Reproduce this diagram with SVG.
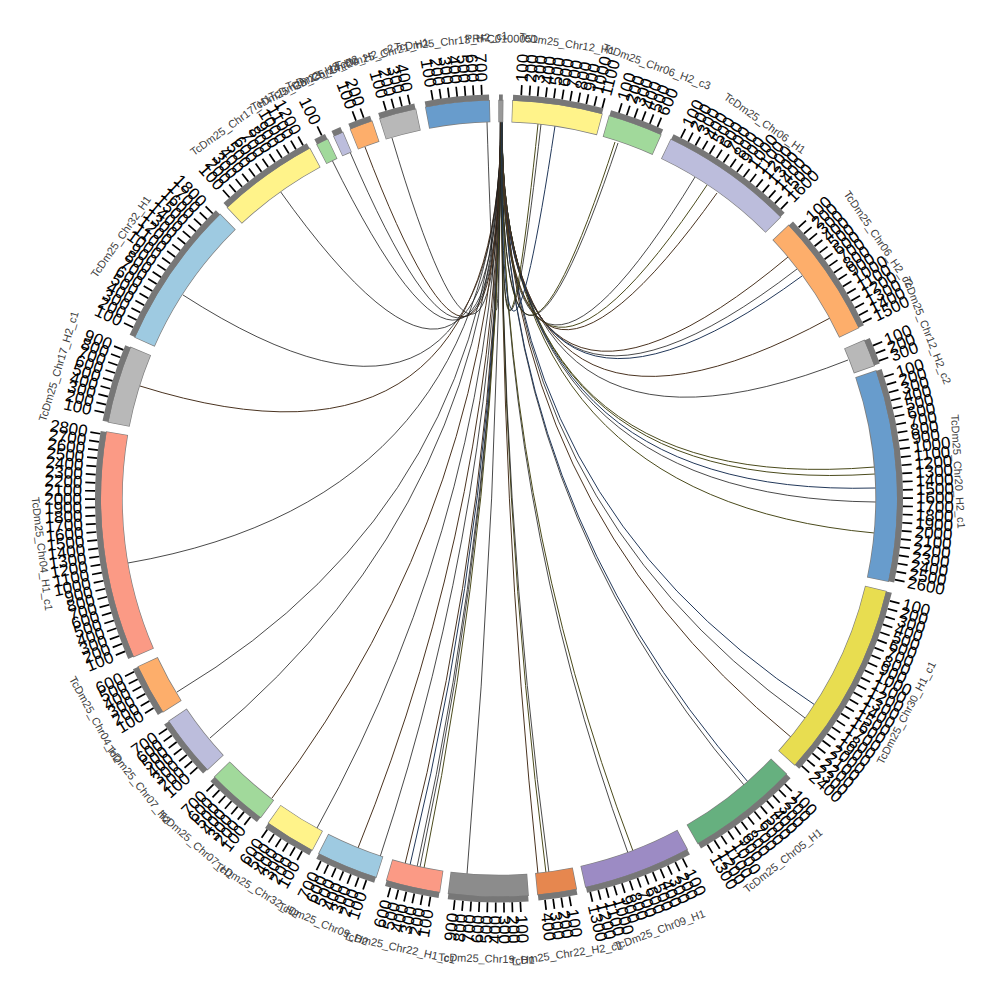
<svg xmlns="http://www.w3.org/2000/svg" xmlns:xlink="http://www.w3.org/1999/xlink" width="1000" height="1000" viewBox="0 0 1000 1000">
<style>
.ol{fill:none;stroke:#7f7f7f;stroke-width:22.4}
.bd{fill:none;stroke-width:21}
.gb{fill:none;stroke:#777;stroke-width:6}
.tl{font-family:"Liberation Sans",Arial,sans-serif;font-size:17px;fill:#000;dominant-baseline:central}
.tr{text-anchor:end}
.nm{font-family:"Liberation Sans",Arial,sans-serif;font-size:11px;fill:#404040;text-anchor:middle;dominant-baseline:central}
.lk{fill:none;stroke:#1c1c1c;stroke-width:0.8}
.lb{fill:none;stroke:#4a3320;stroke-width:1}
.lo{fill:none;stroke:#4b4b1c;stroke-width:1}
.ln{fill:none;stroke:#22385a;stroke-width:1}
</style>
<defs>
<line id="tk" x1="404" y1="0" x2="414" y2="0" stroke="#000" stroke-width="1.7"/>
</defs>
<rect width="1000" height="1000" fill="#fff"/>
<g id="links">
<path class="lk" d="M500 121.5 Q499 498.5 487 122"/>
<path class="lk" d="M500.5 121.5 Q499 498.5 392 138"/>
<path class="lb" d="M500.5 121.5 Q499 498.5 365 147"/>
<path class="lk" d="M501 121.5 Q499 498.5 350 152"/>
<path class="lk" d="M501 121.5 Q499 498.5 332 160"/>
<path class="lk" d="M501 121.5 Q499 498.5 280 191"/>
<path class="lk" d="M501 121.5 Q499 498.5 183 295"/>
<path class="lb" d="M501 121.5 Q499 498.5 140 386"/>
<path class="lk" d="M501 121.5 Q499 498.5 128 563"/>
<path class="lk" d="M501 121.5 Q499 498.5 177 692"/>
<path class="lk" d="M501 121.5 Q499 498.5 210 738"/>
<path class="lb" d="M501 121.5 Q499 498.5 272 798"/>
<path class="lk" d="M501 121.5 Q499 498.5 317 828"/>
<path class="lb" d="M501 121.5 Q499 498.5 358 848"/>
<path class="lk" d="M501 121.5 Q499 498.5 380 857"/>
<path class="lb" d="M501 121.5 Q499 498.5 405 864"/>
<path class="ln" d="M501.5 121.5 Q499 498.5 410 865"/>
<path class="lk" d="M501.5 121.5 Q499 498.5 417 867" stroke-width="1.6"/>
<path class="lk" d="M501.5 121.5 Q499 498.5 420 867" stroke-width="1.6"/>
<path class="lo" d="M501.5 121.5 Q499 498.5 424 868"/>
<path class="lk" d="M501.5 121.5 Q499 498.5 467 874"/>
<path class="lb" d="M501.5 121.5 Q499 498.5 538 874"/>
<path class="lo" d="M501.5 121.5 Q499 498.5 546 873" stroke-width="1.6"/>
<path class="lk" d="M501.5 121.5 Q499 498.5 549 873" stroke-width="1.4"/>
<path class="lk" d="M501.5 121.5 Q499 498.5 628 853"/>
<path class="lo" d="M501.5 121.5 Q499 498.5 633 851"/>
<path class="lk" d="M502 121.5 Q499 498.5 744 785"/>
<path class="ln" d="M502 121.5 Q499 498.5 748 782"/>
<path class="ln" d="M502 121.5 Q499 498.5 815 705"/>
<path class="lk" d="M502 121.5 Q499 498.5 805 718"/>
<path class="lb" d="M502 121.5 Q499 498.5 792 738"/>
<path class="lo" d="M502 121.5 Q499 498.5 874.7 467"/>
<path class="lo" d="M502 121.5 Q499 498.5 875.2 474"/>
<path class="ln" d="M502 121.5 Q499 498.5 875.9 488"/>
<path class="lk" d="M502 121.5 Q499 498.5 876 502"/>
<path class="lo" d="M502 121.5 Q499 498.5 874.4 533"/>
<path class="lk" d="M502 121.5 Q499 498.5 848 360"/>
<path class="lb" d="M502 121.5 Q499 498.5 788 257"/>
<path class="lk" d="M502 121.5 Q499 498.5 797 269"/>
<path class="ln" d="M502 121.5 Q499 498.5 802 276"/>
<path class="lb" d="M502 121.5 Q499 498.5 830 318"/>
<path class="lk" d="M502 121.5 Q499 498.5 695 177"/>
<path class="lo" d="M502 121.5 Q499 498.5 707 185"/>
<path class="lb" d="M502 121.5 Q499 498.5 717 193"/>
<path class="lo" d="M502 121.5 Q499 498.5 615 142"/>
<path class="lk" d="M502 121.5 Q499 498.5 618 143"/>
<path class="lo" d="M502 121.5 Q499 498.5 538 124"/>
<path class="lk" d="M502 121.5 Q499 498.5 541 124"/>
<path class="ln" d="M502 121.5 Q499 498.5 555 126"/>
</g>
<g transform="translate(499 498.5)">
<g id="s01">
<circle class="ol" r="387.5" stroke-dasharray="5.07 3000" transform="rotate(269.9)"/>
<circle class="bd" r="387.5" stroke="#999" stroke-dasharray="3.72 3000" transform="rotate(270)"/>
<circle class="gb" r="401" stroke-dasharray="3.85 3000" transform="rotate(270)"/>
<text class="nm" y="-460" transform="rotate(0.28)">PRFC0100051</text>
</g>
<g id="s02">
<circle class="ol" r="387.5" stroke-dasharray="89.27 3000" transform="rotate(-88.1)"/>
<circle class="bd" r="387.5" stroke="#fff38a" stroke-dasharray="87.92 3000" transform="rotate(-88)"/>
<circle class="gb" r="401" stroke-dasharray="90.98 3000" transform="rotate(-88)"/>
<use href="#tk" transform="rotate(-86.84)"/><use href="#tk" transform="rotate(-85.67)"/><use href="#tk" transform="rotate(-84.51)"/><use href="#tk" transform="rotate(-83.34)"/><use href="#tk" transform="rotate(-82.18)"/><use href="#tk" transform="rotate(-81.01)"/><use href="#tk" transform="rotate(-79.85)"/><use href="#tk" transform="rotate(-78.68)"/><use href="#tk" transform="rotate(-77.52)"/><use href="#tk" transform="rotate(-76.35)"/><use href="#tk" transform="rotate(-75.19)"/>
<text class="tl" x="417" transform="rotate(-86.84)">100</text><text class="tl" x="417" transform="rotate(-85.67)">200</text><text class="tl" x="417" transform="rotate(-84.51)">300</text><text class="tl" x="417" transform="rotate(-83.34)">400</text><text class="tl" x="417" transform="rotate(-82.18)">500</text><text class="tl" x="417" transform="rotate(-81.01)">600</text><text class="tl" x="417" transform="rotate(-79.85)">700</text><text class="tl" x="417" transform="rotate(-78.68)">800</text><text class="tl" x="417" transform="rotate(-77.52)">900</text><text class="tl" x="417" transform="rotate(-76.35)">1000</text><text class="tl" x="417" transform="rotate(-75.19)">1100</text>
<text class="nm" y="-460" transform="rotate(8.5)">TcDm25_Chr12_H1</text>
</g>
<g id="s03">
<circle class="ol" r="387.5" stroke-dasharray="54.78 3000" transform="rotate(-74)"/>
<circle class="bd" r="387.5" stroke="#a1d99b" stroke-dasharray="53.43 3000" transform="rotate(-73.9)"/>
<circle class="gb" r="401" stroke-dasharray="55.29 3000" transform="rotate(-73.9)"/>
<use href="#tk" transform="rotate(-72.74)"/><use href="#tk" transform="rotate(-71.57)"/><use href="#tk" transform="rotate(-70.41)"/><use href="#tk" transform="rotate(-69.24)"/><use href="#tk" transform="rotate(-68.08)"/><use href="#tk" transform="rotate(-66.91)"/>
<text class="tl" x="417" transform="rotate(-72.74)">100</text><text class="tl" x="417" transform="rotate(-71.57)">200</text><text class="tl" x="417" transform="rotate(-70.41)">300</text><text class="tl" x="417" transform="rotate(-69.24)">400</text><text class="tl" x="417" transform="rotate(-68.08)">500</text><text class="tl" x="417" transform="rotate(-66.91)">600</text>
<text class="nm" y="-460" transform="rotate(20.05)">TcDm25_Chr06_H2_c3</text>
</g>
<g id="s04">
<circle class="ol" r="387.5" stroke-dasharray="132.56 3000" transform="rotate(-64.5)"/>
<circle class="bd" r="387.5" stroke="#bcbddc" stroke-dasharray="131.2 3000" transform="rotate(-64.4)"/>
<circle class="gb" r="401" stroke-dasharray="135.78 3000" transform="rotate(-64.4)"/>
<use href="#tk" transform="rotate(-63.24)"/><use href="#tk" transform="rotate(-62.07)"/><use href="#tk" transform="rotate(-60.91)"/><use href="#tk" transform="rotate(-59.74)"/><use href="#tk" transform="rotate(-58.58)"/><use href="#tk" transform="rotate(-57.41)"/><use href="#tk" transform="rotate(-56.25)"/><use href="#tk" transform="rotate(-55.08)"/><use href="#tk" transform="rotate(-53.92)"/><use href="#tk" transform="rotate(-52.75)"/><use href="#tk" transform="rotate(-51.59)"/><use href="#tk" transform="rotate(-50.42)"/><use href="#tk" transform="rotate(-49.26)"/><use href="#tk" transform="rotate(-48.09)"/><use href="#tk" transform="rotate(-46.93)"/><use href="#tk" transform="rotate(-45.76)"/>
<text class="tl" x="417" transform="rotate(-63.24)">100</text><text class="tl" x="417" transform="rotate(-62.07)">200</text><text class="tl" x="417" transform="rotate(-60.91)">300</text><text class="tl" x="417" transform="rotate(-59.74)">400</text><text class="tl" x="417" transform="rotate(-58.58)">500</text><text class="tl" x="417" transform="rotate(-57.41)">600</text><text class="tl" x="417" transform="rotate(-56.25)">700</text><text class="tl" x="417" transform="rotate(-55.08)">800</text><text class="tl" x="417" transform="rotate(-53.92)">900</text><text class="tl" x="417" transform="rotate(-52.75)">1000</text><text class="tl" x="417" transform="rotate(-51.59)">1100</text><text class="tl" x="417" transform="rotate(-50.42)">1200</text><text class="tl" x="417" transform="rotate(-49.26)">1300</text><text class="tl" x="417" transform="rotate(-48.09)">1400</text><text class="tl" x="417" transform="rotate(-46.93)">1500</text><text class="tl" x="417" transform="rotate(-45.76)">1600</text>
<text class="nm" y="-460" transform="rotate(35.3)">TcDm25_Chr06_H1</text>
</g>
<g id="s05">
<circle class="ol" r="387.5" stroke-dasharray="122.41 3000" transform="rotate(-43.4)"/>
<circle class="bd" r="387.5" stroke="#fdae6b" stroke-dasharray="121.06 3000" transform="rotate(-43.3)"/>
<circle class="gb" r="401" stroke-dasharray="125.28 3000" transform="rotate(-43.3)"/>
<use href="#tk" transform="rotate(-42.14)"/><use href="#tk" transform="rotate(-40.97)"/><use href="#tk" transform="rotate(-39.81)"/><use href="#tk" transform="rotate(-38.64)"/><use href="#tk" transform="rotate(-37.48)"/><use href="#tk" transform="rotate(-36.31)"/><use href="#tk" transform="rotate(-35.15)"/><use href="#tk" transform="rotate(-33.98)"/><use href="#tk" transform="rotate(-32.82)"/><use href="#tk" transform="rotate(-31.65)"/><use href="#tk" transform="rotate(-30.49)"/><use href="#tk" transform="rotate(-29.32)"/><use href="#tk" transform="rotate(-28.16)"/><use href="#tk" transform="rotate(-26.99)"/><use href="#tk" transform="rotate(-25.83)"/>
<text class="tl" x="417" transform="rotate(-42.14)">100</text><text class="tl" x="417" transform="rotate(-40.97)">200</text><text class="tl" x="417" transform="rotate(-39.81)">300</text><text class="tl" x="417" transform="rotate(-38.64)">400</text><text class="tl" x="417" transform="rotate(-37.48)">500</text><text class="tl" x="417" transform="rotate(-36.31)">600</text><text class="tl" x="417" transform="rotate(-35.15)">700</text><text class="tl" x="417" transform="rotate(-33.98)">800</text><text class="tl" x="417" transform="rotate(-32.82)">900</text><text class="tl" x="417" transform="rotate(-31.65)">1000</text><text class="tl" x="417" transform="rotate(-30.49)">1100</text><text class="tl" x="417" transform="rotate(-29.32)">1200</text><text class="tl" x="417" transform="rotate(-28.16)">1300</text><text class="tl" x="417" transform="rotate(-26.99)">1400</text><text class="tl" x="417" transform="rotate(-25.83)">1500</text>
<text class="nm" y="-460" transform="rotate(55.65)">TcDm25_Chr06_H2_c2</text>
</g>
<g id="s06">
<circle class="ol" r="387.5" stroke-dasharray="27.73 3000" transform="rotate(-23.5)"/>
<circle class="bd" r="387.5" stroke="#b8b8b8" stroke-dasharray="26.38 3000" transform="rotate(-23.4)"/>
<circle class="gb" r="401" stroke-dasharray="27.3 3000" transform="rotate(-23.4)"/>
<use href="#tk" transform="rotate(-22.24)"/><use href="#tk" transform="rotate(-21.07)"/><use href="#tk" transform="rotate(-19.91)"/>
<text class="tl" x="417" transform="rotate(-22.24)">100</text><text class="tl" x="417" transform="rotate(-21.07)">200</text><text class="tl" x="417" transform="rotate(-19.91)">300</text>
<text class="nm" y="-460" transform="rotate(68.55)">TcDm25_Chr12_H2_c2</text>
</g>
<g id="s07">
<circle class="ol" r="387.5" stroke-dasharray="208.98 3000" transform="rotate(-18.8)"/>
<circle class="bd" r="387.5" stroke="#689ccc" stroke-dasharray="207.63 3000" transform="rotate(-18.7)"/>
<circle class="gb" r="401" stroke-dasharray="214.86 3000" transform="rotate(-18.7)"/>
<use href="#tk" transform="rotate(-17.54)"/><use href="#tk" transform="rotate(-16.37)"/><use href="#tk" transform="rotate(-15.21)"/><use href="#tk" transform="rotate(-14.04)"/><use href="#tk" transform="rotate(-12.88)"/><use href="#tk" transform="rotate(-11.71)"/><use href="#tk" transform="rotate(-10.55)"/><use href="#tk" transform="rotate(-9.38)"/><use href="#tk" transform="rotate(-8.22)"/><use href="#tk" transform="rotate(-7.05)"/><use href="#tk" transform="rotate(-5.89)"/><use href="#tk" transform="rotate(-4.72)"/><use href="#tk" transform="rotate(-3.56)"/><use href="#tk" transform="rotate(-2.39)"/><use href="#tk" transform="rotate(-1.23)"/><use href="#tk" transform="rotate(-0.06)"/><use href="#tk" transform="rotate(1.11)"/><use href="#tk" transform="rotate(2.27)"/><use href="#tk" transform="rotate(3.44)"/><use href="#tk" transform="rotate(4.6)"/><use href="#tk" transform="rotate(5.77)"/><use href="#tk" transform="rotate(6.93)"/><use href="#tk" transform="rotate(8.1)"/><use href="#tk" transform="rotate(9.26)"/><use href="#tk" transform="rotate(10.43)"/><use href="#tk" transform="rotate(11.59)"/>
<text class="tl" x="417" transform="rotate(-17.54)">100</text><text class="tl" x="417" transform="rotate(-16.37)">200</text><text class="tl" x="417" transform="rotate(-15.21)">300</text><text class="tl" x="417" transform="rotate(-14.04)">400</text><text class="tl" x="417" transform="rotate(-12.88)">500</text><text class="tl" x="417" transform="rotate(-11.71)">600</text><text class="tl" x="417" transform="rotate(-10.55)">700</text><text class="tl" x="417" transform="rotate(-9.38)">800</text><text class="tl" x="417" transform="rotate(-8.22)">900</text><text class="tl" x="417" transform="rotate(-7.05)">1000</text><text class="tl" x="417" transform="rotate(-5.89)">1100</text><text class="tl" x="417" transform="rotate(-4.72)">1200</text><text class="tl" x="417" transform="rotate(-3.56)">1300</text><text class="tl" x="417" transform="rotate(-2.39)">1400</text><text class="tl" x="417" transform="rotate(-1.23)">1500</text><text class="tl" x="417" transform="rotate(-0.06)">1600</text><text class="tl" x="417" transform="rotate(1.11)">1700</text><text class="tl" x="417" transform="rotate(2.27)">1800</text><text class="tl" x="417" transform="rotate(3.44)">1900</text><text class="tl" x="417" transform="rotate(4.6)">2000</text><text class="tl" x="417" transform="rotate(5.77)">2100</text><text class="tl" x="417" transform="rotate(6.93)">2200</text><text class="tl" x="417" transform="rotate(8.1)">2300</text><text class="tl" x="417" transform="rotate(9.26)">2400</text><text class="tl" x="417" transform="rotate(10.43)">2500</text><text class="tl" x="417" transform="rotate(11.59)">2600</text>
<text class="nm" y="-460" transform="rotate(86.65)">TcDm25_Chr20_H2_c1</text>
</g>
<g id="s08">
<circle class="ol" r="387.5" stroke-dasharray="194.1 3000" transform="rotate(13.4)"/>
<circle class="bd" r="387.5" stroke="#e8dd50" stroke-dasharray="192.75 3000" transform="rotate(13.5)"/>
<circle class="gb" r="401" stroke-dasharray="199.47 3000" transform="rotate(13.5)"/>
<use href="#tk" transform="rotate(14.67)"/><use href="#tk" transform="rotate(15.83)"/><use href="#tk" transform="rotate(17)"/><use href="#tk" transform="rotate(18.16)"/><use href="#tk" transform="rotate(19.33)"/><use href="#tk" transform="rotate(20.49)"/><use href="#tk" transform="rotate(21.66)"/><use href="#tk" transform="rotate(22.82)"/><use href="#tk" transform="rotate(23.99)"/><use href="#tk" transform="rotate(25.15)"/><use href="#tk" transform="rotate(26.32)"/><use href="#tk" transform="rotate(27.48)"/><use href="#tk" transform="rotate(28.65)"/><use href="#tk" transform="rotate(29.81)"/><use href="#tk" transform="rotate(30.98)"/><use href="#tk" transform="rotate(32.14)"/><use href="#tk" transform="rotate(33.31)"/><use href="#tk" transform="rotate(34.47)"/><use href="#tk" transform="rotate(35.64)"/><use href="#tk" transform="rotate(36.8)"/><use href="#tk" transform="rotate(37.97)"/><use href="#tk" transform="rotate(39.13)"/><use href="#tk" transform="rotate(40.3)"/><use href="#tk" transform="rotate(41.46)"/>
<text class="tl" x="417" transform="rotate(14.67)">100</text><text class="tl" x="417" transform="rotate(15.83)">200</text><text class="tl" x="417" transform="rotate(17)">300</text><text class="tl" x="417" transform="rotate(18.16)">400</text><text class="tl" x="417" transform="rotate(19.33)">500</text><text class="tl" x="417" transform="rotate(20.49)">600</text><text class="tl" x="417" transform="rotate(21.66)">700</text><text class="tl" x="417" transform="rotate(22.82)">800</text><text class="tl" x="417" transform="rotate(23.99)">900</text><text class="tl" x="417" transform="rotate(25.15)">1000</text><text class="tl" x="417" transform="rotate(26.32)">1100</text><text class="tl" x="417" transform="rotate(27.48)">1200</text><text class="tl" x="417" transform="rotate(28.65)">1300</text><text class="tl" x="417" transform="rotate(29.81)">1400</text><text class="tl" x="417" transform="rotate(30.98)">1500</text><text class="tl" x="417" transform="rotate(32.14)">1600</text><text class="tl" x="417" transform="rotate(33.31)">1700</text><text class="tl" x="417" transform="rotate(34.47)">1800</text><text class="tl" x="417" transform="rotate(35.64)">1900</text><text class="tl" x="417" transform="rotate(36.8)">2000</text><text class="tl" x="417" transform="rotate(37.97)">2100</text><text class="tl" x="417" transform="rotate(39.13)">2200</text><text class="tl" x="417" transform="rotate(40.3)">2300</text><text class="tl" x="417" transform="rotate(41.46)">2400</text>
<text class="nm" y="460" transform="rotate(-62.25)">TcDm25_Chr30_H1_c1</text>
</g>
<g id="s09">
<circle class="ol" r="387.5" stroke-dasharray="110.91 3000" transform="rotate(43.7)"/>
<circle class="bd" r="387.5" stroke="#66b07f" stroke-dasharray="109.56 3000" transform="rotate(43.8)"/>
<circle class="gb" r="401" stroke-dasharray="113.38 3000" transform="rotate(43.8)"/>
<use href="#tk" transform="rotate(44.97)"/><use href="#tk" transform="rotate(46.13)"/><use href="#tk" transform="rotate(47.3)"/><use href="#tk" transform="rotate(48.46)"/><use href="#tk" transform="rotate(49.63)"/><use href="#tk" transform="rotate(50.79)"/><use href="#tk" transform="rotate(51.96)"/><use href="#tk" transform="rotate(53.12)"/><use href="#tk" transform="rotate(54.29)"/><use href="#tk" transform="rotate(55.45)"/><use href="#tk" transform="rotate(56.62)"/><use href="#tk" transform="rotate(57.78)"/><use href="#tk" transform="rotate(58.95)"/>
<text class="tl" x="417" transform="rotate(44.97)">100</text><text class="tl" x="417" transform="rotate(46.13)">200</text><text class="tl" x="417" transform="rotate(47.3)">300</text><text class="tl" x="417" transform="rotate(48.46)">400</text><text class="tl" x="417" transform="rotate(49.63)">500</text><text class="tl" x="417" transform="rotate(50.79)">600</text><text class="tl" x="417" transform="rotate(51.96)">700</text><text class="tl" x="417" transform="rotate(53.12)">800</text><text class="tl" x="417" transform="rotate(54.29)">900</text><text class="tl" x="417" transform="rotate(55.45)">1000</text><text class="tl" x="417" transform="rotate(56.62)">1100</text><text class="tl" x="417" transform="rotate(57.78)">1200</text><text class="tl" x="417" transform="rotate(58.95)">1300</text>
<text class="nm" y="460" transform="rotate(-38.1)">TcDm25_Chr05_H1</text>
</g>
<g id="s10">
<circle class="ol" r="387.5" stroke-dasharray="106.86 3000" transform="rotate(61.7)"/>
<circle class="bd" r="387.5" stroke="#9c8bc4" stroke-dasharray="105.5 3000" transform="rotate(61.8)"/>
<circle class="gb" r="401" stroke-dasharray="109.18 3000" transform="rotate(61.8)"/>
<use href="#tk" transform="rotate(62.97)"/><use href="#tk" transform="rotate(64.13)"/><use href="#tk" transform="rotate(65.3)"/><use href="#tk" transform="rotate(66.46)"/><use href="#tk" transform="rotate(67.63)"/><use href="#tk" transform="rotate(68.79)"/><use href="#tk" transform="rotate(69.96)"/><use href="#tk" transform="rotate(71.12)"/><use href="#tk" transform="rotate(72.29)"/><use href="#tk" transform="rotate(73.45)"/><use href="#tk" transform="rotate(74.62)"/><use href="#tk" transform="rotate(75.78)"/><use href="#tk" transform="rotate(76.95)"/>
<text class="tl" x="417" transform="rotate(62.97)">100</text><text class="tl" x="417" transform="rotate(64.13)">200</text><text class="tl" x="417" transform="rotate(65.3)">300</text><text class="tl" x="417" transform="rotate(66.46)">400</text><text class="tl" x="417" transform="rotate(67.63)">500</text><text class="tl" x="417" transform="rotate(68.79)">600</text><text class="tl" x="417" transform="rotate(69.96)">700</text><text class="tl" x="417" transform="rotate(71.12)">800</text><text class="tl" x="417" transform="rotate(72.29)">900</text><text class="tl" x="417" transform="rotate(73.45)">1000</text><text class="tl" x="417" transform="rotate(74.62)">1100</text><text class="tl" x="417" transform="rotate(75.78)">1200</text><text class="tl" x="417" transform="rotate(76.95)">1300</text>
<text class="nm" y="460" transform="rotate(-20.4)">TcDm25_Chr09_H1</text>
</g>
<g id="s11">
<circle class="ol" r="387.5" stroke-dasharray="39.23 3000" transform="rotate(78.7)"/>
<circle class="bd" r="387.5" stroke="#e6874f" stroke-dasharray="37.87 3000" transform="rotate(78.8)"/>
<circle class="gb" r="401" stroke-dasharray="39.19 3000" transform="rotate(78.8)"/>
<use href="#tk" transform="rotate(79.97)"/><use href="#tk" transform="rotate(81.13)"/><use href="#tk" transform="rotate(82.3)"/><use href="#tk" transform="rotate(83.46)"/>
<text class="tl" x="417" transform="rotate(79.97)">100</text><text class="tl" x="417" transform="rotate(81.13)">200</text><text class="tl" x="417" transform="rotate(82.3)">300</text><text class="tl" x="417" transform="rotate(83.46)">400</text>
<text class="nm" y="460" transform="rotate(-8.4)">TcDm25_Chr22_H2_c1</text>
</g>
<g id="s12">
<circle class="ol" r="387.5" stroke-dasharray="79.13 3000" transform="rotate(85.7)"/>
<circle class="bd" r="387.5" stroke="#8c8c8c" stroke-dasharray="77.78 3000" transform="rotate(85.8)"/>
<circle class="gb" r="401" stroke-dasharray="80.49 3000" transform="rotate(85.8)"/>
<use href="#tk" transform="rotate(86.97)"/><use href="#tk" transform="rotate(88.13)"/><use href="#tk" transform="rotate(89.3)"/><use href="#tk" transform="rotate(90.46)"/><use href="#tk" transform="rotate(91.63)"/><use href="#tk" transform="rotate(92.79)"/><use href="#tk" transform="rotate(93.96)"/><use href="#tk" transform="rotate(95.12)"/><use href="#tk" transform="rotate(96.29)"/>
<text class="tl" x="417" transform="rotate(86.97)">100</text><text class="tl" x="417" transform="rotate(88.13)">200</text><text class="tl" x="417" transform="rotate(89.3)">300</text><text class="tl tr" x="-417" transform="rotate(-89.54)">400</text><text class="tl tr" x="-417" transform="rotate(-88.37)">500</text><text class="tl tr" x="-417" transform="rotate(-87.21)">600</text><text class="tl tr" x="-417" transform="rotate(-86.04)">700</text><text class="tl tr" x="-417" transform="rotate(-84.88)">800</text><text class="tl tr" x="-417" transform="rotate(-83.71)">900</text>
<text class="nm" y="460" transform="rotate(1.55)">TcDm25_Chr19_H1</text>
</g>
<g id="s13">
<circle class="ol" r="387.5" stroke-dasharray="54.1 3000" transform="rotate(98.5)"/>
<circle class="bd" r="387.5" stroke="#fb9a85" stroke-dasharray="52.75 3000" transform="rotate(98.6)"/>
<circle class="gb" r="401" stroke-dasharray="54.59 3000" transform="rotate(98.6)"/>
<use href="#tk" transform="rotate(99.77)"/><use href="#tk" transform="rotate(100.93)"/><use href="#tk" transform="rotate(102.1)"/><use href="#tk" transform="rotate(103.26)"/><use href="#tk" transform="rotate(104.43)"/><use href="#tk" transform="rotate(105.59)"/>
<text class="tl tr" x="-417" transform="rotate(-80.23)">100</text><text class="tl tr" x="-417" transform="rotate(-79.07)">200</text><text class="tl tr" x="-417" transform="rotate(-77.9)">300</text><text class="tl tr" x="-417" transform="rotate(-76.74)">400</text><text class="tl tr" x="-417" transform="rotate(-75.57)">500</text><text class="tl tr" x="-417" transform="rotate(-74.41)">600</text>
<text class="nm" y="460" transform="rotate(12.5)">TcDm25_Chr22_H1_c1</text>
</g>
<g id="s14">
<circle class="ol" r="387.5" stroke-dasharray="61.54 3000" transform="rotate(107.9)"/>
<circle class="bd" r="387.5" stroke="#9ecae1" stroke-dasharray="60.19 3000" transform="rotate(108)"/>
<circle class="gb" r="401" stroke-dasharray="62.29 3000" transform="rotate(108)"/>
<use href="#tk" transform="rotate(109.17)"/><use href="#tk" transform="rotate(110.33)"/><use href="#tk" transform="rotate(111.5)"/><use href="#tk" transform="rotate(112.66)"/><use href="#tk" transform="rotate(113.83)"/><use href="#tk" transform="rotate(114.99)"/><use href="#tk" transform="rotate(116.16)"/>
<text class="tl tr" x="-417" transform="rotate(-70.83)">100</text><text class="tl tr" x="-417" transform="rotate(-69.67)">200</text><text class="tl tr" x="-417" transform="rotate(-68.5)">300</text><text class="tl tr" x="-417" transform="rotate(-67.34)">400</text><text class="tl tr" x="-417" transform="rotate(-66.17)">500</text><text class="tl tr" x="-417" transform="rotate(-65.01)">600</text><text class="tl tr" x="-417" transform="rotate(-63.84)">700</text>
<text class="nm" y="460" transform="rotate(22.45)">TcDm25_Chr09_H2</text>
</g>
<g id="s15">
<circle class="ol" r="387.5" stroke-dasharray="51.4 3000" transform="rotate(117.9)"/>
<circle class="bd" r="387.5" stroke="#fff38a" stroke-dasharray="50.05 3000" transform="rotate(118)"/>
<circle class="gb" r="401" stroke-dasharray="51.79 3000" transform="rotate(118)"/>
<use href="#tk" transform="rotate(119.17)"/><use href="#tk" transform="rotate(120.33)"/><use href="#tk" transform="rotate(121.5)"/><use href="#tk" transform="rotate(122.66)"/><use href="#tk" transform="rotate(123.83)"/><use href="#tk" transform="rotate(124.99)"/>
<text class="tl tr" x="-417" transform="rotate(-60.83)">100</text><text class="tl tr" x="-417" transform="rotate(-59.67)">200</text><text class="tl tr" x="-417" transform="rotate(-58.5)">300</text><text class="tl tr" x="-417" transform="rotate(-57.34)">400</text><text class="tl tr" x="-417" transform="rotate(-56.17)">500</text><text class="tl tr" x="-417" transform="rotate(-55.01)">600</text>
<text class="nm" y="460" transform="rotate(31.7)">TcDm25_Chr32_H2</text>
</g>
<g id="s16">
<circle class="ol" r="387.5" stroke-dasharray="60.87 3000" transform="rotate(126.7)"/>
<circle class="bd" r="387.5" stroke="#a1d99b" stroke-dasharray="59.52 3000" transform="rotate(126.8)"/>
<circle class="gb" r="401" stroke-dasharray="61.59 3000" transform="rotate(126.8)"/>
<use href="#tk" transform="rotate(127.97)"/><use href="#tk" transform="rotate(129.13)"/><use href="#tk" transform="rotate(130.3)"/><use href="#tk" transform="rotate(131.46)"/><use href="#tk" transform="rotate(132.63)"/><use href="#tk" transform="rotate(133.79)"/><use href="#tk" transform="rotate(134.96)"/>
<text class="tl tr" x="-417" transform="rotate(-52.03)">100</text><text class="tl tr" x="-417" transform="rotate(-50.87)">200</text><text class="tl tr" x="-417" transform="rotate(-49.7)">300</text><text class="tl tr" x="-417" transform="rotate(-48.54)">400</text><text class="tl tr" x="-417" transform="rotate(-47.37)">500</text><text class="tl tr" x="-417" transform="rotate(-46.21)">600</text><text class="tl tr" x="-417" transform="rotate(-45.04)">700</text>
<text class="nm" y="460" transform="rotate(41.2)">TcDm25_Chr07_H1</text>
</g>
<g id="s17">
<circle class="ol" r="387.5" stroke-dasharray="61.54 3000" transform="rotate(137)"/>
<circle class="bd" r="387.5" stroke="#bcbddc" stroke-dasharray="60.19 3000" transform="rotate(137.1)"/>
<circle class="gb" r="401" stroke-dasharray="62.29 3000" transform="rotate(137.1)"/>
<use href="#tk" transform="rotate(138.27)"/><use href="#tk" transform="rotate(139.43)"/><use href="#tk" transform="rotate(140.6)"/><use href="#tk" transform="rotate(141.76)"/><use href="#tk" transform="rotate(142.93)"/><use href="#tk" transform="rotate(144.09)"/><use href="#tk" transform="rotate(145.26)"/>
<text class="tl tr" x="-417" transform="rotate(-41.73)">100</text><text class="tl tr" x="-417" transform="rotate(-40.57)">200</text><text class="tl tr" x="-417" transform="rotate(-39.4)">300</text><text class="tl tr" x="-417" transform="rotate(-38.24)">400</text><text class="tl tr" x="-417" transform="rotate(-37.07)">500</text><text class="tl tr" x="-417" transform="rotate(-35.91)">600</text><text class="tl tr" x="-417" transform="rotate(-34.74)">700</text>
<text class="nm" y="460" transform="rotate(51.55)">TcDm25_Chr07_H2</text>
</g>
<g id="s18">
<circle class="ol" r="387.5" stroke-dasharray="51.4 3000" transform="rotate(147.5)"/>
<circle class="bd" r="387.5" stroke="#fdae6b" stroke-dasharray="50.05 3000" transform="rotate(147.6)"/>
<circle class="gb" r="401" stroke-dasharray="51.79 3000" transform="rotate(147.6)"/>
<use href="#tk" transform="rotate(148.77)"/><use href="#tk" transform="rotate(149.93)"/><use href="#tk" transform="rotate(151.1)"/><use href="#tk" transform="rotate(152.26)"/><use href="#tk" transform="rotate(153.43)"/><use href="#tk" transform="rotate(154.59)"/>
<text class="tl tr" x="-417" transform="rotate(-31.23)">100</text><text class="tl tr" x="-417" transform="rotate(-30.07)">200</text><text class="tl tr" x="-417" transform="rotate(-28.9)">300</text><text class="tl tr" x="-417" transform="rotate(-27.74)">400</text><text class="tl tr" x="-417" transform="rotate(-26.57)">500</text><text class="tl tr" x="-417" transform="rotate(-25.41)">600</text>
<text class="nm" y="460" transform="rotate(61.3)">TcDm25_Chr04_H2</text>
</g>
<g id="s19">
<circle class="ol" r="387.5" stroke-dasharray="224.53 3000" transform="rotate(156.5)"/>
<circle class="bd" r="387.5" stroke="#fb9a85" stroke-dasharray="223.18 3000" transform="rotate(156.6)"/>
<circle class="gb" r="401" stroke-dasharray="230.96 3000" transform="rotate(156.6)"/>
<use href="#tk" transform="rotate(157.77)"/><use href="#tk" transform="rotate(158.93)"/><use href="#tk" transform="rotate(160.1)"/><use href="#tk" transform="rotate(161.26)"/><use href="#tk" transform="rotate(162.43)"/><use href="#tk" transform="rotate(163.59)"/><use href="#tk" transform="rotate(164.76)"/><use href="#tk" transform="rotate(165.92)"/><use href="#tk" transform="rotate(167.09)"/><use href="#tk" transform="rotate(168.25)"/><use href="#tk" transform="rotate(169.42)"/><use href="#tk" transform="rotate(170.58)"/><use href="#tk" transform="rotate(171.75)"/><use href="#tk" transform="rotate(172.91)"/><use href="#tk" transform="rotate(174.08)"/><use href="#tk" transform="rotate(175.24)"/><use href="#tk" transform="rotate(176.41)"/><use href="#tk" transform="rotate(177.57)"/><use href="#tk" transform="rotate(178.74)"/><use href="#tk" transform="rotate(179.9)"/><use href="#tk" transform="rotate(181.07)"/><use href="#tk" transform="rotate(182.23)"/><use href="#tk" transform="rotate(183.4)"/><use href="#tk" transform="rotate(184.56)"/><use href="#tk" transform="rotate(185.73)"/><use href="#tk" transform="rotate(186.89)"/><use href="#tk" transform="rotate(188.06)"/><use href="#tk" transform="rotate(189.22)"/>
<text class="tl tr" x="-417" transform="rotate(-22.23)">100</text><text class="tl tr" x="-417" transform="rotate(-21.07)">200</text><text class="tl tr" x="-417" transform="rotate(-19.9)">300</text><text class="tl tr" x="-417" transform="rotate(-18.74)">400</text><text class="tl tr" x="-417" transform="rotate(-17.57)">500</text><text class="tl tr" x="-417" transform="rotate(-16.41)">600</text><text class="tl tr" x="-417" transform="rotate(-15.24)">700</text><text class="tl tr" x="-417" transform="rotate(-14.08)">800</text><text class="tl tr" x="-417" transform="rotate(-12.91)">900</text><text class="tl tr" x="-417" transform="rotate(-11.75)">1000</text><text class="tl tr" x="-417" transform="rotate(-10.58)">1100</text><text class="tl tr" x="-417" transform="rotate(-9.42)">1200</text><text class="tl tr" x="-417" transform="rotate(-8.25)">1300</text><text class="tl tr" x="-417" transform="rotate(-7.09)">1400</text><text class="tl tr" x="-417" transform="rotate(-5.92)">1500</text><text class="tl tr" x="-417" transform="rotate(-4.76)">1600</text><text class="tl tr" x="-417" transform="rotate(-3.59)">1700</text><text class="tl tr" x="-417" transform="rotate(-2.43)">1800</text><text class="tl tr" x="-417" transform="rotate(-1.26)">1900</text><text class="tl tr" x="-417" transform="rotate(-0.1)">2000</text><text class="tl tr" x="-417" transform="rotate(1.07)">2100</text><text class="tl tr" x="-417" transform="rotate(2.23)">2200</text><text class="tl tr" x="-417" transform="rotate(3.4)">2300</text><text class="tl tr" x="-417" transform="rotate(4.56)">2400</text><text class="tl tr" x="-417" transform="rotate(5.73)">2500</text><text class="tl tr" x="-417" transform="rotate(6.89)">2600</text><text class="tl tr" x="-417" transform="rotate(8.06)">2700</text><text class="tl tr" x="-417" transform="rotate(9.22)">2800</text>
<text class="nm" y="460" transform="rotate(83.1)">TcDm25_Chr04_H1_c1</text>
</g>
<g id="s20">
<circle class="ol" r="387.5" stroke-dasharray="77.1 3000" transform="rotate(191)"/>
<circle class="bd" r="387.5" stroke="#b8b8b8" stroke-dasharray="75.75 3000" transform="rotate(191.1)"/>
<circle class="gb" r="401" stroke-dasharray="78.39 3000" transform="rotate(191.1)"/>
<use href="#tk" transform="rotate(192.27)"/><use href="#tk" transform="rotate(193.43)"/><use href="#tk" transform="rotate(194.6)"/><use href="#tk" transform="rotate(195.76)"/><use href="#tk" transform="rotate(196.93)"/><use href="#tk" transform="rotate(198.09)"/><use href="#tk" transform="rotate(199.26)"/><use href="#tk" transform="rotate(200.42)"/><use href="#tk" transform="rotate(201.59)"/>
<text class="tl tr" x="-417" transform="rotate(12.27)">100</text><text class="tl tr" x="-417" transform="rotate(13.43)">200</text><text class="tl tr" x="-417" transform="rotate(14.6)">300</text><text class="tl tr" x="-417" transform="rotate(15.76)">400</text><text class="tl tr" x="-417" transform="rotate(16.93)">500</text><text class="tl tr" x="-417" transform="rotate(18.09)">600</text><text class="tl tr" x="-417" transform="rotate(19.26)">700</text><text class="tl tr" x="-417" transform="rotate(20.42)">800</text><text class="tl tr" x="-417" transform="rotate(21.59)">900</text>
<text class="nm" y="-460" transform="rotate(-73.3)">TcDm25_Chr17_H2_c1</text>
</g>
<g id="s21">
<circle class="ol" r="387.5" stroke-dasharray="147.44 3000" transform="rotate(203.8)"/>
<circle class="bd" r="387.5" stroke="#9ecae1" stroke-dasharray="146.08 3000" transform="rotate(203.9)"/>
<circle class="gb" r="401" stroke-dasharray="151.17 3000" transform="rotate(203.9)"/>
<use href="#tk" transform="rotate(205.07)"/><use href="#tk" transform="rotate(206.23)"/><use href="#tk" transform="rotate(207.4)"/><use href="#tk" transform="rotate(208.56)"/><use href="#tk" transform="rotate(209.73)"/><use href="#tk" transform="rotate(210.89)"/><use href="#tk" transform="rotate(212.06)"/><use href="#tk" transform="rotate(213.22)"/><use href="#tk" transform="rotate(214.39)"/><use href="#tk" transform="rotate(215.55)"/><use href="#tk" transform="rotate(216.72)"/><use href="#tk" transform="rotate(217.88)"/><use href="#tk" transform="rotate(219.05)"/><use href="#tk" transform="rotate(220.21)"/><use href="#tk" transform="rotate(221.38)"/><use href="#tk" transform="rotate(222.54)"/><use href="#tk" transform="rotate(223.71)"/><use href="#tk" transform="rotate(224.87)"/>
<text class="tl tr" x="-417" transform="rotate(25.07)">100</text><text class="tl tr" x="-417" transform="rotate(26.23)">200</text><text class="tl tr" x="-417" transform="rotate(27.4)">300</text><text class="tl tr" x="-417" transform="rotate(28.56)">400</text><text class="tl tr" x="-417" transform="rotate(29.73)">500</text><text class="tl tr" x="-417" transform="rotate(30.89)">600</text><text class="tl tr" x="-417" transform="rotate(32.06)">700</text><text class="tl tr" x="-417" transform="rotate(33.22)">800</text><text class="tl tr" x="-417" transform="rotate(34.39)">900</text><text class="tl tr" x="-417" transform="rotate(35.55)">1000</text><text class="tl tr" x="-417" transform="rotate(36.72)">1100</text><text class="tl tr" x="-417" transform="rotate(37.88)">1200</text><text class="tl tr" x="-417" transform="rotate(39.05)">1300</text><text class="tl tr" x="-417" transform="rotate(40.21)">1400</text><text class="tl tr" x="-417" transform="rotate(41.38)">1500</text><text class="tl tr" x="-417" transform="rotate(42.54)">1600</text><text class="tl tr" x="-417" transform="rotate(43.71)">1700</text><text class="tl tr" x="-417" transform="rotate(44.87)">1800</text>
<text class="nm" y="-460" transform="rotate(-55.3)">TcDm25_Chr32_H1</text>
</g>
<g id="s22">
<circle class="ol" r="387.5" stroke-dasharray="100.1 3000" transform="rotate(226.9)"/>
<circle class="bd" r="387.5" stroke="#fff38a" stroke-dasharray="98.74 3000" transform="rotate(227)"/>
<circle class="gb" r="401" stroke-dasharray="102.18 3000" transform="rotate(227)"/>
<use href="#tk" transform="rotate(228.17)"/><use href="#tk" transform="rotate(229.33)"/><use href="#tk" transform="rotate(230.5)"/><use href="#tk" transform="rotate(231.66)"/><use href="#tk" transform="rotate(232.83)"/><use href="#tk" transform="rotate(233.99)"/><use href="#tk" transform="rotate(235.16)"/><use href="#tk" transform="rotate(236.32)"/><use href="#tk" transform="rotate(237.49)"/><use href="#tk" transform="rotate(238.65)"/><use href="#tk" transform="rotate(239.82)"/><use href="#tk" transform="rotate(240.98)"/>
<text class="tl tr" x="-417" transform="rotate(48.17)">100</text><text class="tl tr" x="-417" transform="rotate(49.33)">200</text><text class="tl tr" x="-417" transform="rotate(50.5)">300</text><text class="tl tr" x="-417" transform="rotate(51.66)">400</text><text class="tl tr" x="-417" transform="rotate(52.83)">500</text><text class="tl tr" x="-417" transform="rotate(53.99)">600</text><text class="tl tr" x="-417" transform="rotate(55.16)">700</text><text class="tl tr" x="-417" transform="rotate(56.32)">800</text><text class="tl tr" x="-417" transform="rotate(57.49)">900</text><text class="tl tr" x="-417" transform="rotate(58.65)">1000</text><text class="tl tr" x="-417" transform="rotate(59.82)">1100</text><text class="tl tr" x="-417" transform="rotate(60.98)">1200</text>
<text class="nm" y="-460" transform="rotate(-35.7)">TcDm25_Chr17_H1</text>
</g>
<g id="s23">
<circle class="ol" r="387.5" stroke-dasharray="12.85 3000" transform="rotate(242.7)"/>
<circle class="bd" r="387.5" stroke="#a1d99b" stroke-dasharray="11.5 3000" transform="rotate(242.8)"/>
<circle class="gb" r="401" stroke-dasharray="11.9 3000" transform="rotate(242.8)"/>
<use href="#tk" transform="rotate(243.97)"/>
<text class="tl tr" x="-417" transform="rotate(63.97)">100</text>
<text class="nm" y="-460" transform="rotate(-26.35)">TcDm25_Chr23_H2</text>
</g>
<g id="s24">
<circle class="ol" r="387.5" stroke-dasharray="10.82 3000" transform="rotate(245.4)"/>
<circle class="bd" r="387.5" stroke="#bcbddc" stroke-dasharray="9.47 3000" transform="rotate(245.5)"/>
<circle class="gb" r="401" stroke-dasharray="9.8 3000" transform="rotate(245.5)"/>
<text class="nm" y="-460" transform="rotate(-23.8)">TcDm25_Chr24_H2</text>
</g>
<g id="s25">
<circle class="ol" r="387.5" stroke-dasharray="23.67 3000" transform="rotate(248)"/>
<circle class="bd" r="387.5" stroke="#fdae6b" stroke-dasharray="22.32 3000" transform="rotate(248.1)"/>
<circle class="gb" r="401" stroke-dasharray="23.1 3000" transform="rotate(248.1)"/>
<use href="#tk" transform="rotate(249.27)"/><use href="#tk" transform="rotate(250.43)"/>
<text class="tl tr" x="-417" transform="rotate(69.27)">100</text><text class="tl tr" x="-417" transform="rotate(70.43)">200</text>
<text class="nm" y="-460" transform="rotate(-20.25)">TcDm25_Chr20_H2_c2</text>
</g>
<g id="s26">
<circle class="ol" r="387.5" stroke-dasharray="37.2 3000" transform="rotate(252.5)"/>
<circle class="bd" r="387.5" stroke="#b8b8b8" stroke-dasharray="35.84 3000" transform="rotate(252.6)"/>
<circle class="gb" r="401" stroke-dasharray="37.09 3000" transform="rotate(252.6)"/>
<use href="#tk" transform="rotate(253.77)"/><use href="#tk" transform="rotate(254.93)"/><use href="#tk" transform="rotate(256.1)"/><use href="#tk" transform="rotate(257.26)"/>
<text class="tl tr" x="-417" transform="rotate(73.77)">100</text><text class="tl tr" x="-417" transform="rotate(74.93)">200</text><text class="tl tr" x="-417" transform="rotate(76.1)">300</text><text class="tl tr" x="-417" transform="rotate(77.26)">400</text>
<text class="nm" y="-460" transform="rotate(-14.75)">TcDm25_Chr21_H1</text>
</g>
<g id="s27">
<circle class="ol" r="387.5" stroke-dasharray="63.57 3000" transform="rotate(259.3)"/>
<circle class="bd" r="387.5" stroke="#689ccc" stroke-dasharray="62.22 3000" transform="rotate(259.4)"/>
<circle class="gb" r="401" stroke-dasharray="64.39 3000" transform="rotate(259.4)"/>
<use href="#tk" transform="rotate(260.57)"/><use href="#tk" transform="rotate(261.73)"/><use href="#tk" transform="rotate(262.9)"/><use href="#tk" transform="rotate(264.06)"/><use href="#tk" transform="rotate(265.23)"/><use href="#tk" transform="rotate(266.39)"/><use href="#tk" transform="rotate(267.56)"/>
<text class="tl tr" x="-417" transform="rotate(80.57)">100</text><text class="tl tr" x="-417" transform="rotate(81.73)">200</text><text class="tl tr" x="-417" transform="rotate(82.9)">300</text><text class="tl tr" x="-417" transform="rotate(84.06)">400</text><text class="tl tr" x="-417" transform="rotate(85.23)">500</text><text class="tl tr" x="-417" transform="rotate(86.39)">600</text><text class="tl tr" x="-417" transform="rotate(87.56)">700</text>
<text class="nm" y="-460" transform="rotate(-6)">TcDm25_Chr13_H2_c1</text>
</g>
</g>
</svg>
